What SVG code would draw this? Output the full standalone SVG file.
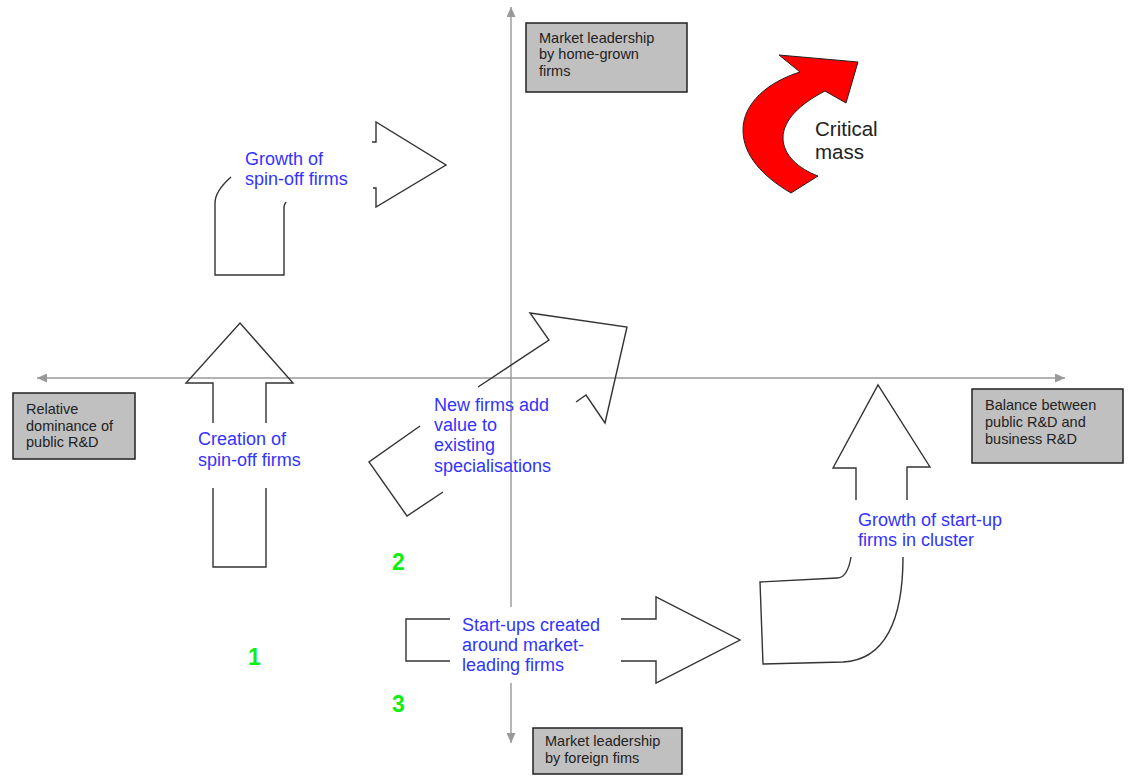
<svg xmlns="http://www.w3.org/2000/svg" width="1128" height="776" viewBox="0 0 1128 776">
<style>
.box{fill:#c0c0c0;stroke:#222;stroke-width:1.5}
.bt{font-family:"Liberation Sans",Arial,sans-serif;font-size:14.5px;fill:#222}
.lbl{font-family:"Liberation Sans",Arial,sans-serif;font-size:18px;fill:#3333ff}
.num{font-family:"Liberation Sans",Arial,sans-serif;font-size:23px;font-weight:bold;fill:#11ee11}
.outl{fill:none;stroke:#333;stroke-width:1.4;stroke-linejoin:miter}
.axis{stroke:#999;stroke-width:1.4;fill:none}
</style>
<defs>
<marker id="ah" viewBox="0 0 10 9" refX="10" refY="4.5" markerWidth="10" markerHeight="9" markerUnits="userSpaceOnUse" orient="auto-start-reverse">
<path d="M0,0 L10,4.5 L0,9 z" fill="#999"/>
</marker>
</defs>
<rect width="1128" height="776" fill="#fff"/>

<g id="connectors">
<line class="axis" x1="511" y1="607" x2="511" y2="7" marker-end="url(#ah)"/>
<line class="axis" x1="511" y1="683" x2="511" y2="743" marker-end="url(#ah)"/>
<line class="axis" x1="37" y1="378" x2="1065" y2="378" marker-start="url(#ah)" marker-end="url(#ah)"/>
</g>

<g id="box-homegrown">
<rect class="box" x="526" y="23" width="161" height="69"/>
<text class="bt" x="539" y="43">Market leadership</text>
<text class="bt" x="539" y="59">by home-grown</text>
<text class="bt" x="539" y="76">firms</text>
</g>

<g id="box-public">
<rect class="box" x="13" y="393" width="122" height="66"/>
<text class="bt" x="26" y="414">Relative</text>
<text class="bt" x="26" y="431">dominance of</text>
<text class="bt" x="26" y="447">public R&amp;D</text>
</g>

<g id="box-balance">
<rect class="box" x="972" y="389" width="151" height="74"/>
<text class="bt" x="985" y="410">Balance between</text>
<text class="bt" x="985" y="427">public R&amp;D and</text>
<text class="bt" x="985" y="444">business R&amp;D</text>
</g>

<g id="box-foreign">
<rect class="box" x="533" y="728" width="149" height="46"/>
<text class="bt" x="545" y="746">Market leadership</text>
<text class="bt" x="545" y="763">by foreign fims</text>
</g>

<g id="arrow-creation">
<polyline class="outl" points="213,423 213,383 186,383 240,323 293,383 266,383 266,423"/>
<polyline class="outl" points="213,488 213,567 266,567 266,488"/>
<text class="lbl" x="198" y="445">Creation of</text>
<text class="lbl" x="198" y="466">spin-off firms</text>
</g>

<g id="arrow-growth-spinoff">
<path class="outl" d="M231,177 C222,185 215,193 215,203 L215,275 L284,275 L284,207 C284,205 285,204 286,202"/>
<polyline class="outl" points="372,142 376,142 376,122 446,165 376,207 376,188 373,188"/>
<text class="lbl" x="245" y="165">Growth of</text>
<text class="lbl" x="245" y="185">spin-off firms</text>
</g>

<g id="arrow-new-firms">
<polyline class="outl" points="420,426 369,462 407,516 443,492"/>
<polyline class="outl" points="478,387 549,340 530,313 627,327 605,423 586,395 576,402"/>
<text class="lbl" x="434" y="411">New firms add</text>
<text class="lbl" x="434" y="431">value to</text>
<text class="lbl" x="434" y="451">existing</text>
<text class="lbl" x="434" y="472">specialisations</text>
</g>

<g id="arrow-startups">
<polyline class="outl" points="450,619 406,619 406,661 450,661"/>
<polyline class="outl" points="621,619 656,619 656,597 740,640 656,683 656,661 621,661"/>
<text class="lbl" x="462" y="631">Start-ups created</text>
<text class="lbl" x="462" y="651">around market-</text>
<text class="lbl" x="462" y="671">leading firms</text>
</g>

<g id="arrow-growth-startup">
<polyline class="outl" points="856,500 856,468 833,468 878,385 930,467 907,467 907,500"/>
<path class="outl" d="M851,557 C849,569 845,578 837,578 L760,582 L763,664 L843,662 C885,660 903,620 903,557"/>
<text class="lbl" x="858" y="526">Growth of start-up</text>
<text class="lbl" x="858" y="546">firms in cluster</text>
</g>

<g id="arrow-critical-mass">
<path d="M779,55 L858,62 L846,103 L825,91 C800,104 783,120 783,138 C783,155 799,169 818,176 L791,193 C762,176 743,155 743,130 C743,103 768,82 800,72 Z" fill="#ff0000" stroke="#222" stroke-width="1"/>
<text x="815" y="136" font-family="Liberation Sans, Arial, sans-serif" font-size="20.5" fill="#222">Critical</text>
<text x="815" y="159" font-family="Liberation Sans, Arial, sans-serif" font-size="20.5" fill="#222">mass</text>
</g>

<g id="numbers">
<text class="num" x="248" y="665">1</text>
<text class="num" x="392" y="570">2</text>
<text class="num" x="392" y="712">3</text>
</g>
</svg>
